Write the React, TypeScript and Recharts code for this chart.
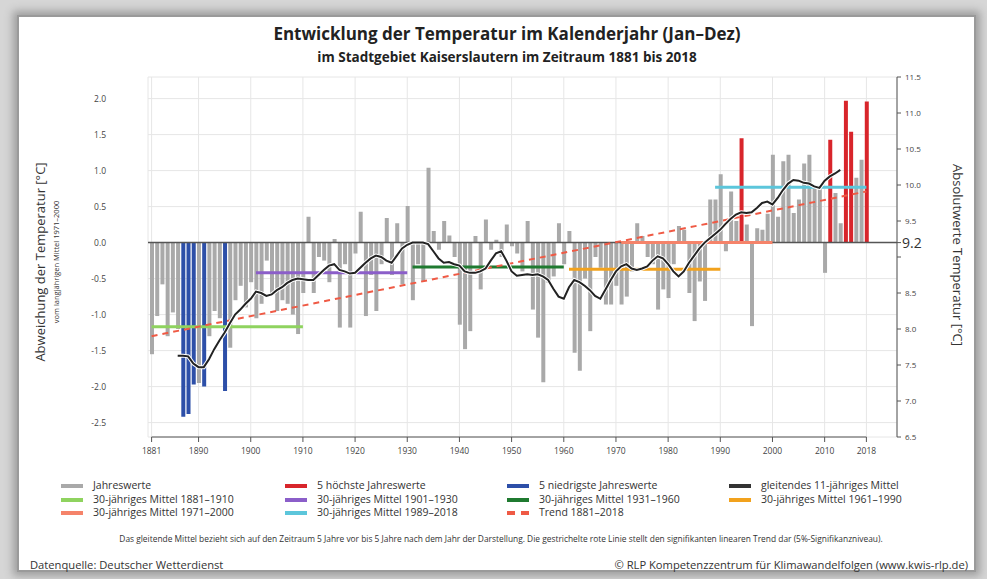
import { Bar, CartesianGrid, Cell, ComposedChart, Line, ReferenceLine, XAxis, YAxis } from 'recharts';

// Jahre 1881–2018
const firstYear = 1881;
const years = Array.from({ length: 138 }, (_, i) => firstYear + i);

// Abweichung vom Mittel 1971–2000 [°C]
const anomalies = [
    -1.55, -1.02, -0.58, -1.30, -0.97, -1.20, -2.42, -2.38, -1.97, -1.95, // 1881–1890
    -2.00, -1.30, -0.95, -1.05, -2.06, -1.46, -0.80, -0.60, -0.90, -0.55, // 1891–1900
    -1.05, -0.85, -0.25, -0.70, -0.95, -0.80, -0.85, -1.00, -1.27, -0.70, // 1901–1910
    0.36, -0.70, -0.20, -0.25, -0.55, 0.05, -1.18, -0.30, -1.18, -0.15, // 1911–1920
    0.43, -1.02, -0.45, -0.95, -0.30, 0.34, -0.45, 0.27, -0.58, 0.51, // 1921–1930
    -0.80, -0.30, -0.54, 1.04, 0.16, -0.10, 0.30, 0.10, -0.20, -1.14, // 1931–1940
    -1.48, -1.23, 0.09, -0.65, 0.32, -0.10, 0.04, -0.20, 0.25, -0.05, // 1941–1950
    -0.15, -0.40, 0.30, -0.93, -1.32, -1.94, -0.56, -0.47, 0.27, -0.30, // 1951–1960
    0.16, -1.53, -1.78, -0.50, -1.23, -0.20, -0.35, -0.86, -0.86, -0.60, // 1961–1970
    -0.86, -0.75, -0.40, 0.27, 0.09, -0.20, -0.30, -0.93, -0.65, -0.77, // 1971–1980
    -0.30, 0.23, 0.18, -0.70, -1.09, -0.54, -0.81, 0.60, 0.60, 0.95, // 1981–1990
    -0.12, 0.71, 0.30, 1.45, 0.25, -1.16, 0.20, 0.18, 0.40, 1.22, // 1991–2000
    0.36, 1.13, 1.22, 0.41, 0.60, 1.10, 1.22, 0.78, 0.74, -0.42, // 2001–2010
    1.43, 0.69, 0.27, 1.97, 1.54, 0.90, 1.15, 1.96, // 2011–2018
];

const hottestYears = [1994, 2011, 2014, 2015, 2018];
const coldestYears = [1887, 1888, 1889, 1891, 1895];

// gleitendes 11-jähriges Mittel, 1886–2013
const runningMeanStart = 1886;
const runningMean = [
    -1.57, -1.57, -1.58, -1.68, -1.73,
    -1.73, -1.62, -1.48, -1.36, -1.25, -1.12, -1.00, -0.93, -0.85, -0.78,
    -0.68, -0.70, -0.74, -0.72, -0.66, -0.62, -0.56, -0.52, -0.50, -0.51,
    -0.52, -0.52, -0.45, -0.38, -0.32, -0.30, -0.38, -0.40, -0.43, -0.42,
    -0.35, -0.28, -0.22, -0.18, -0.20, -0.25, -0.28, -0.18, -0.08, -0.03,
    0.00, 0.00, 0.00, -0.02, -0.12, -0.22, -0.28, -0.27, -0.30, -0.32,
    -0.40, -0.42, -0.42, -0.40, -0.36, -0.25, -0.15, -0.12, -0.25, -0.40,
    -0.46, -0.45, -0.44, -0.45, -0.44, -0.47, -0.52, -0.64, -0.75, -0.78,
    -0.62, -0.52, -0.55, -0.60, -0.66, -0.74, -0.78, -0.65, -0.52, -0.40,
    -0.33, -0.30, -0.36, -0.38, -0.36, -0.33, -0.25, -0.19, -0.22, -0.30,
    -0.40, -0.47, -0.40, -0.28, -0.18, -0.08, 0.00, 0.06, 0.12, 0.18,
    0.26, 0.33, 0.39, 0.42, 0.41, 0.42, 0.48, 0.55, 0.57, 0.53,
    0.62, 0.73, 0.82, 0.87, 0.86, 0.83, 0.82, 0.78, 0.76, 0.86,
    0.92, 0.96, 1.01,
];

// 30-jährige Mittel
const periodStarts = [1881, 1901, 1931, 1961, 1971, 1989];
const periodEnds = [1910, 1930, 1960, 1990, 2000, 2018];
const periodMeans = [-1.17, -0.42, -0.34, -0.37, 0.0, 0.77];

// linearer Trend 1881–2018
const trendYears = [1881, 2018];
const trendValues = [-1.3, 0.71];

const xTicks = [1881, 1890, 1900, 1910, 1920, 1930, 1940, 1950, 1960, 1970, 1980, 1990, 2000, 2010, 2018];
const leftTicks = [-2.5, -2.0, -1.5, -1.0, -0.5, 0.0, 0.5, 1.0, 1.5, 2.0];
const rightTicks = [6.5, 7.0, 7.5, 8.0, 8.5, 9.0, 9.2, 9.5, 10.0, 10.5, 11.0, 11.5];

const GRAY = '#a9a9a9';
const RED = '#d8252b';
const BLUE = '#2d4fa8';
const periodColors = ['#8fd35f', '#8b5ec9', '#1f7a30', '#f2a21d', '#f5836a', '#5cc6db'];
const TREND = '#ef5a45';

const data = years.map((year, i) => {
    const k = year - runningMeanStart;
    return {
        year,
        value: anomalies[i],
        mean: k >= 0 && k < runningMean.length ? runningMean[k] : null,
    };
});

function barColor(year: number) {
    if (hottestYears.includes(year)) return RED;
    if (coldestYears.includes(year)) return BLUE;
    return GRAY;
}

function RightTick(props: any) {
    const { x, y, payload } = props;
    const v = payload.value;
    if (v === 9) return <g />;
    if (Math.abs(v - 9.2) < 0.001) {
        return (
            <text x={x - 3} y={y} dy={5} fontSize={14} fill="#333">
                9.2
            </text>
        );
    }
    return (
        <text x={x} y={y} dy={3} fontSize={8} fill="#444">
            {v.toFixed(1)}
        </text>
    );
}

const legendItems = [
    { label: 'Jahreswerte', color: GRAY },
    { label: '5 höchste Jahreswerte', color: RED },
    { label: '5 niedrigste Jahreswerte', color: BLUE },
    { label: 'gleitendes 11-jähriges Mittel', color: '#333' },
    ...periodStarts.map((s, i) => ({ label: `30-jähriges Mittel ${s}–${periodEnds[i]}`, color: periodColors[i] })),
    { label: `Trend ${trendYears[0]}–${trendYears[1]}`, color: TREND, dashed: true },
];
const legendCols = [61, 285, 507, 729];
const legendRows = [486, 499.5, 513];

export default function App() {
    return (
        <div
            style={{
                position: 'absolute',
                left: 0,
                top: 0,
                width: 987,
                height: 579,
                overflow: 'hidden',
                background: '#d6d6d6',
                fontFamily: "'Open Sans', sans-serif",
                color: '#333',
            }}
        >
            <div
                style={{
                    position: 'absolute',
                    left: 17,
                    top: 15,
                    width: 955,
                    height: 553,
                    background: '#fff',
                    border: '2px solid #9a9a9a',
                    boxShadow: '0 0 8px 4px rgba(90,90,90,0.45)',
                }}
            />
            <div style={{ position: 'absolute', left: 0, top: 0 }}>
                <ComposedChart
                    width={987}
                    height={579}
                    data={data}
                    margin={{ top: 77, right: 40, bottom: 112, left: 88 }}
                >
                    <CartesianGrid yAxisId="left" stroke="#e6e6e6" />
                    <XAxis
                        dataKey="year"
                        ticks={xTicks}
                        interval={0}
                        height={30}
                        padding={{ left: 1, right: 28 }}
                        axisLine={false}
                        tickSize={5}
                        tickMargin={6}
                        tickLine={{ stroke: '#555' }}
                        tick={{ fontSize: 8.5, fill: '#444' }}
                    />
                    <YAxis
                        yAxisId="left"
                        width={60}
                        domain={[-2.7, 2.3]}
                        ticks={leftTicks}
                        interval={0}
                        allowDataOverflow
                        axisLine={false}
                        tickLine={false}
                        tickMargin={36}
                        tick={{ fontSize: 8.5, fill: '#444' }}
                        tickFormatter={(v: number) => v.toFixed(1)}
                    />
                    <YAxis
                        yAxisId="right"
                        orientation="right"
                        width={50}
                        type="number"
                        domain={[6.5, 11.5]}
                        ticks={rightTicks}
                        interval={0}
                        allowDataOverflow
                        axisLine={{ stroke: '#555' }}
                        tickLine={{ stroke: '#555' }}
                        tickSize={4}
                        tickMargin={4}
                        tick={<RightTick />}
                    />
                    <Bar yAxisId="left" dataKey="value" barSize={4} isAnimationActive={false}>
                        {data.map((d) => (
                            <Cell key={d.year} fill={barColor(d.year)} />
                        ))}
                    </Bar>
                    <ReferenceLine yAxisId="left" y={0} stroke="#555" strokeWidth={1.5} />
                    <ReferenceLine
                        yAxisId="left"
                        segment={[
                            { x: firstYear, y: -2.7 },
                            { x: years[years.length - 1], y: -2.7 },
                        ]}
                        stroke="#555"
                    />
                    {periodStarts.map((s, i) => (
                        <ReferenceLine
                            key={s}
                            yAxisId="left"
                            segment={[
                                { x: s, y: periodMeans[i] },
                                { x: periodEnds[i], y: periodMeans[i] },
                            ]}
                            stroke={periodColors[i]}
                            strokeWidth={3}
                        />
                    ))}
                    <ReferenceLine
                        yAxisId="left"
                        segment={[
                            { x: trendYears[0], y: trendValues[0] },
                            { x: trendYears[1], y: trendValues[1] },
                        ]}
                        stroke={TREND}
                        strokeWidth={2}
                        strokeDasharray="6 5"
                    />
                    <Line
                        yAxisId="left"
                        dataKey="mean"
                        stroke="#fff"
                        strokeWidth={4}
                        dot={false}
                        activeDot={false}
                        isAnimationActive={false}
                    />
                    <Line
                        yAxisId="left"
                        dataKey="mean"
                        stroke="#222"
                        strokeWidth={2}
                        dot={false}
                        activeDot={false}
                        isAnimationActive={false}
                    />
                </ComposedChart>
            </div>

            <div style={{ position: 'absolute', left: 157, top: 23, width: 700, textAlign: 'center', fontSize: 17, fontWeight: 700, lineHeight: '22px', color: '#222' }}>
                Entwicklung der Temperatur im Kalenderjahr (Jan–Dez)
            </div>
            <div style={{ position: 'absolute', left: 157, top: 48, width: 700, textAlign: 'center', fontSize: 13.5, fontWeight: 700, lineHeight: '18px', color: '#222' }}>
                im Stadtgebiet Kaiserslautern im Zeitraum 1881 bis 2018
            </div>

            <div style={{ position: 'absolute', left: 40, top: 262, transform: 'translate(-50%, -50%) rotate(-90deg)', whiteSpace: 'nowrap', fontSize: 13 }}>
                Abweichung der Temperatur [°C]
            </div>
            <div style={{ position: 'absolute', left: 56, top: 262, transform: 'translate(-50%, -50%) rotate(-90deg)', whiteSpace: 'nowrap', fontSize: 7.5 }}>
                vom langjährigen Mittel 1971–2000
            </div>
            <div style={{ position: 'absolute', left: 958, top: 255, transform: 'translate(-50%, -50%) rotate(90deg)', whiteSpace: 'nowrap', fontSize: 13 }}>
                Absolutwerte Temperatur [°C]
            </div>

            {legendItems.map((item, i) => {
                const x = legendCols[i % 4];
                const y = legendRows[Math.floor(i / 4)];
                return (
                    <div key={item.label}>
                        <div
                            style={{
                                position: 'absolute',
                                left: x,
                                top: y - 2,
                                width: 22,
                                height: 0,
                                borderTop: `4px ${item.dashed ? 'dashed' : 'solid'} ${item.color}`,
                            }}
                        />
                        <div style={{ position: 'absolute', left: x + 32, top: y - 8, fontSize: 10.5, lineHeight: '15px', whiteSpace: 'nowrap' }}>
                            {item.label}
                        </div>
                    </div>
                );
            })}

            <div style={{ position: 'absolute', left: 0, top: 532, width: 1002, textAlign: 'center', fontSize: 8.4, lineHeight: '13px', whiteSpace: 'nowrap' }}>
                Das gleitende Mittel bezieht sich auf den Zeitraum 5 Jahre vor bis 5 Jahre nach dem Jahr der Darstellung. Die gestrichelte rote Linie stellt den signifikanten linearen Trend dar (5%-Signifikanzniveau).
            </div>
            <div style={{ position: 'absolute', left: 30, top: 557, fontSize: 11.2, lineHeight: '16px', whiteSpace: 'nowrap' }}>
                Datenquelle: Deutscher Wetterdienst
            </div>
            <div style={{ position: 'absolute', right: 19, top: 557, fontSize: 11.2, lineHeight: '16px', whiteSpace: 'nowrap' }}>
                © RLP Kompetenzzentrum für Klimawandelfolgen (www.kwis-rlp.de)
            </div>
        </div>
    );
}
